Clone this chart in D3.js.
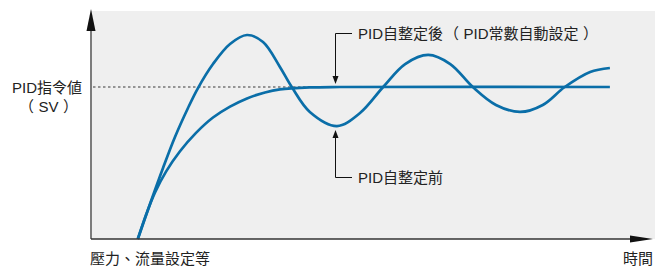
<!DOCTYPE html>
<html>
<head>
<meta charset="utf-8">
<script src="https://cdn.jsdelivr.net/npm/d3@7/dist/d3.min.js"></script>
<style>
  body { margin: 0; background: #fff; }
  text { font-family: "Liberation Sans", "Noto Sans CJK TC", sans-serif; fill: #222; font-size: 15px; }
</style>
</head>
<body>
<svg id="chart" width="660" height="269"></svg>
<script>
// Data (time in 0-100 units, value in % of set point)
let timeBefore = [8.3, 10.46, 12.77, 14.89, 17.2, 18.97, 21.63, 24.65, 27.66, 30.5, 33.5, 35.6, 38.8, 43.6, 47.7, 51.8, 55.7, 59.8, 63.7, 67.7, 71.8, 76.1, 80.1, 84.0, 88.5, 92.0];
let valueBefore = [0, 23.0, 46.7, 67.1, 86.2, 99.3, 115.1, 128.3, 134.2, 129.6, 113.2, 100, 83.6, 74.3, 82.9, 100, 115.1, 121.1, 115.1, 100, 88.2, 83.6, 88.2, 100, 109.9, 112.5];

let timeAfter = [8.3, 9.75, 11.35, 13.3, 15.78, 18.62, 21.63, 24.65, 27.66, 30.85, 33.51, 38.83, 44.1, 92.0];
let valueAfter = [0, 15.8, 30.6, 44.3, 57.7, 69.8, 79.9, 87.1, 92.5, 96.4, 98.4, 99.7, 100, 100];

let setPoint = 100;
let labelSV = ["PID指令値", "SV"];
let labelAfter = ["PID自整定後", "PID常數自動設定"];
let labelBefore = "PID自整定前";
let labelX = "時間";
let labelY = "壓力、流量設定等";

let svg = d3.select("#chart");

// Scales
let x = d3.scaleLinear().domain([0, 100]).range([91, 655]);
let y = d3.scaleLinear().domain([0, 150]).range([239, 11]);

// background panel
svg.append("rect")
  .attr("x", x(0)).attr("y", y(150))
  .attr("width", x(100) - x(0)).attr("height", y(0) - y(150))
  .attr("fill", "#efefef");

// set point dotted line
svg.append("line")
  .attr("x1", x(0) + 2).attr("x2", x(59))
  .attr("y1", y(setPoint)).attr("y2", y(setPoint))
  .attr("stroke", "#777").attr("stroke-width", 1.5)
  .attr("stroke-dasharray", "2.5,2.5");

// curves
let line = d3.line()
  .x(d => x(d[0]))
  .y(d => y(d[1]))
  .curve(d3.curveCatmullRom.alpha(0.5));

svg.append("path")
  .datum(d3.zip(timeBefore, valueBefore))
  .attr("d", line)
  .attr("fill", "none")
  .attr("stroke", "#0a6ea8")
  .attr("stroke-width", 2.7);

svg.append("path")
  .datum(d3.zip(timeAfter, valueAfter))
  .attr("d", line)
  .attr("fill", "none")
  .attr("stroke", "#0a6ea8")
  .attr("stroke-width", 2.7);

// axes
svg.append("line")
  .attr("x1", x(0)).attr("x2", x(0))
  .attr("y1", y(0)).attr("y2", 28)
  .attr("stroke", "#7c7c7c").attr("stroke-width", 2);
svg.append("path")
  .attr("d", d3.line()([[x(0), 9], [x(0) + 4.5, 31], [x(0) - 4.5, 31]]) + "Z")
  .attr("fill", "#111");

svg.append("line")
  .attr("x1", x(0)).attr("x2", 634)
  .attr("y1", y(0)).attr("y2", y(0))
  .attr("stroke", "#333").attr("stroke-width", 1.5);
svg.append("path")
  .attr("d", d3.line()([[653, y(0)], [630, y(0) - 3.5], [630, y(0) + 3.5]]) + "Z")
  .attr("fill", "#111");

// annotations
let annT = 43.3;
let ax = Math.round(x(annT)) + 0.5;

function arrowHead(tipY, dir) {
  // dir: 1 = pointing down, -1 = pointing up
  svg.append("path")
    .attr("d", d3.line()([[ax, tipY], [ax - 3, tipY - dir * 8], [ax + 3, tipY - dir * 8]]) + "Z")
    .attr("fill", "#111");
}

// text with wide-spaced parentheses like the original
function parenText(sel, before, inner) {
  if (before) sel.append("tspan").text(before);
  sel.append("tspan").attr("dx", before ? 1 : 0).text("（");
  sel.append("tspan").attr("dx", 4.5).text(inner);
  sel.append("tspan").attr("dx", 4.5).text("）");
}

let topY = 33.5;
svg.append("path")
  .attr("d", d3.line()([[352, topY], [ax, topY], [ax, y(setPoint) - 6]]))
  .attr("fill", "none").attr("stroke", "#111").attr("stroke-width", 1);
arrowHead(y(setPoint) - 3, 1);
parenText(svg.append("text").attr("x", 358).attr("y", topY + 5.5), labelAfter[0], labelAfter[1]);

let botY = 177.5;
svg.append("path")
  .attr("d", d3.line()([[352, botY], [ax, botY], [ax, 136]]))
  .attr("fill", "none").attr("stroke", "#111").attr("stroke-width", 1);
arrowHead(130, -1);
svg.append("text").attr("x", 358).attr("y", botY + 5.5).text(labelBefore);

// SV label
svg.append("text").attr("x", 82).attr("y", y(setPoint) + 5.5)
  .attr("text-anchor", "end").text(labelSV[0]);
parenText(svg.append("text").attr("x", 78).attr("y", y(setPoint) + 25)
  .attr("text-anchor", "end"), null, labelSV[1]);

// axis labels
svg.append("text").attr("x", x(0) - 1).attr("y", 264).text(labelY);
svg.append("text").attr("x", 653).attr("y", 264)
  .attr("text-anchor", "end").text(labelX);
</script>
</body>
</html>
